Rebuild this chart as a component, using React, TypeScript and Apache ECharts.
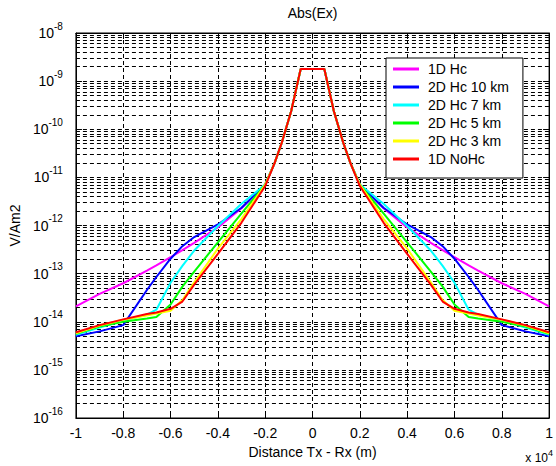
import React, { useEffect, useRef } from "react";
import * as echarts from "echarts";

// Distance Tx - Rx in metres (axis is shown in units of 10^4 m)
const DIST = [-10000, -9000, -8000, -7000, -6600, -6000, -5500, -5000, -4000, -3000, -2000, -1600, -1300, -900, -500, 0, 500, 900, 1300, 1600, 2000, 3000, 4000, 5000, 5500, 6000, 6600, 7000, 8000, 9000, 10000];

const SERIES_NAMES = ["1D Hc", "2D Hc 10 km", "2D Hc 7 km", "2D Hc 5 km", "2D Hc 3 km", "1D NoHc"];
const SERIES_COLORS = ["#ff00ff", "#0000ff", "#00ffff", "#00ff00", "#ffff00", "#ff0000"];

const HC_1D = [2.09e-14, 3.8e-14, 6.31e-14, 1.15e-13, 1.48e-13, 2.19e-13, 3.09e-13, 4.37e-13, 9.12e-13, 2.29e-12, 7.08e-12, 2.0e-11, 5.25e-11, 2.4e-10, 1.78e-9, 1.78e-9, 1.78e-9, 2.4e-10, 5.25e-11, 2.0e-11, 7.08e-12, 2.29e-12, 9.12e-13, 4.37e-13, 3.09e-13, 2.19e-13, 1.48e-13, 1.15e-13, 6.31e-14, 3.8e-14, 2.09e-14];
const HC_2D_10 = [5.01e-15, 6.31e-15, 8.51e-15, 4.57e-14, 8.51e-14, 2.04e-13, 3.72e-13, 5.75e-13, 1.05e-12, 2.34e-12, 7.08e-12, 2.0e-11, 5.25e-11, 2.4e-10, 1.78e-9, 1.78e-9, 1.78e-9, 2.4e-10, 5.25e-11, 2.0e-11, 7.08e-12, 2.34e-12, 1.05e-12, 5.75e-13, 3.72e-13, 2.04e-13, 8.51e-14, 4.57e-14, 8.51e-15, 6.31e-15, 5.01e-15];
const HC_2D_7 = [5.37e-15, 7.59e-15, 1.05e-14, 1.41e-14, 1.78e-14, 6.46e-14, 1.45e-13, 3.02e-13, 9.77e-13, 2.82e-12, 7.08e-12, 2.0e-11, 5.25e-11, 2.4e-10, 1.78e-9, 1.78e-9, 1.78e-9, 2.4e-10, 5.25e-11, 2.0e-11, 7.08e-12, 2.82e-12, 9.77e-13, 3.02e-13, 1.45e-13, 6.46e-14, 1.78e-14, 1.41e-14, 1.05e-14, 7.59e-15, 5.37e-15];
const HC_2D_5 = [5.62e-15, 7.94e-15, 1.0e-14, 1.17e-14, 1.26e-14, 2.29e-14, 5.37e-14, 1.1e-13, 4.47e-13, 1.78e-12, 7.08e-12, 2.0e-11, 5.25e-11, 2.4e-10, 1.78e-9, 1.78e-9, 1.78e-9, 2.4e-10, 5.25e-11, 2.0e-11, 7.08e-12, 1.78e-12, 4.47e-13, 1.1e-13, 5.37e-14, 2.29e-14, 1.26e-14, 1.17e-14, 1.0e-14, 7.94e-15, 5.62e-15];
const HC_2D_3 = [5.75e-15, 8.32e-15, 1.1e-14, 1.35e-14, 1.48e-14, 1.7e-14, 2.82e-14, 6.61e-14, 3.31e-13, 1.38e-12, 7.08e-12, 2.0e-11, 5.25e-11, 2.4e-10, 1.78e-9, 1.78e-9, 1.78e-9, 2.4e-10, 5.25e-11, 2.0e-11, 7.08e-12, 1.38e-12, 3.31e-13, 6.61e-14, 2.82e-14, 1.7e-14, 1.48e-14, 1.35e-14, 1.1e-14, 8.32e-15, 5.75e-15];
const NOHC_1D = [6.03e-15, 8.51e-15, 1.12e-14, 1.45e-14, 1.55e-14, 1.86e-14, 2.63e-14, 5.89e-14, 2.57e-13, 1.15e-12, 6.61e-12, 2.0e-11, 5.25e-11, 2.4e-10, 1.78e-9, 1.78e-9, 1.78e-9, 2.4e-10, 5.25e-11, 2.0e-11, 6.61e-12, 1.15e-12, 2.57e-13, 5.89e-14, 2.63e-14, 1.86e-14, 1.55e-14, 1.45e-14, 1.12e-14, 8.51e-15, 6.03e-15];

const SERIES_VALUES = [HC_1D, HC_2D_10, HC_2D_7, HC_2D_5, HC_2D_3, NOHC_1D];

// Y axis range, decades and the log minor grid multipliers
const Y_MIN = 1e-16;
const Y_MAX = 1e-8;
const DECADES = [-16, -15, -14, -13, -12, -11, -10, -9];
const MINOR_MULT = [2, 3, 4, 5, 6, 7, 8, 9];

const FONT = "'Liberation Sans', Arial, sans-serif";
const DASH = [4, 3];

export default function App() {
  const ref = useRef<HTMLDivElement>(null);

  useEffect(() => {
    document.body.style.margin = "0";
    if (!ref.current) return;
    const chart = echarts.init(ref.current, undefined, { renderer: "svg" });

    const minorLines: any[] = [];
    DECADES.forEach((d) => {
      MINOR_MULT.forEach((m) => minorLines.push({ yAxis: m * Math.pow(10, d) }));
    });

    const supRich = {
      base: { fontSize: 14, fontFamily: FONT, color: "#000", lineHeight: 24 },
      sup: { fontSize: 10, fontFamily: FONT, color: "#000", verticalAlign: "top", lineHeight: 11 },
    };

    const axisLine = { show: true, onZero: false, lineStyle: { color: "#000", width: 1 } };
    const axisTick = { show: true, inside: true, length: 6, lineStyle: { color: "#000" } };

    const series: any[] = [
      {
        name: "__grid",
        type: "line",
        // invisible carrier series (no values) for the minor log grid lines
        data: DIST.map((x) => [x, null]),
        showSymbol: false,
        symbol: "none",
        silent: true,
        z: 1,
        markLine: {
          silent: true,
          z: 1,
          precision: 20,
          symbol: ["none", "none"],
          label: { show: false },
          emphasis: { disabled: true },
          lineStyle: { color: "#000", type: DASH, width: 1, opacity: 1 },
          data: minorLines,
        },
      },
    ];
    SERIES_NAMES.forEach((name, i) => {
      series.push({
        name,
        type: "line",
        data: DIST.map((x, j) => [x, SERIES_VALUES[i][j]]),
        showSymbol: false,
        symbol: "none",
        z: 3,
        lineStyle: { width: 2, color: SERIES_COLORS[i] },
        itemStyle: { color: SERIES_COLORS[i] },
        emphasis: { disabled: true },
        clip: true,
      });
    });

    chart.setOption({
      animation: false,
      backgroundColor: "#fff",
      textStyle: { fontFamily: FONT },
      title: {
        text: "x 10{sup|4}",
        right: 3,
        top: 448,
        padding: 0,
        textStyle: {
          rich: { sup: { fontSize: 9, fontFamily: FONT, color: "#000", verticalAlign: "top", lineHeight: 9 } },
          fontSize: 12,
          fontWeight: "normal",
          color: "#000",
          lineHeight: 20,
          fontFamily: FONT,
        },
      },
      grid: {
        left: 67,
        top: 33,
        right: 1,
        bottom: 48,
        show: true,
        borderColor: "#000",
        borderWidth: 1,
        backgroundColor: "#fff",
      },
      legend: {
        data: SERIES_NAMES,
        orient: "vertical",
        left: 386,
        top: 58,
        backgroundColor: "#fff",
        borderColor: "#000",
        borderWidth: 1,
        padding: [2, 14, 10, 7],
        itemGap: 0,
        itemWidth: 26,
        itemHeight: 3,
        icon: "rect",
        selectedMode: false,
        textStyle: { fontSize: 14, lineHeight: 18, color: "#000", fontFamily: FONT, padding: [0, 0, 0, 4] },
      },
      xAxis: [
        {
          type: "value",
          min: -10000,
          max: 10000,
          interval: 2000,
          position: "bottom",
          name: "Distance Tx - Rx (m)",
          nameLocation: "middle",
          nameGap: 24,
          nameTextStyle: { fontSize: 14, color: "#000", fontFamily: FONT },
          axisLine,
          axisTick,
          axisLabel: {
            fontSize: 14,
            color: "#000",
            fontFamily: FONT,
            margin: 8,
            formatter: (v: number) => String(Math.round(v / 1000) / 10),
          },
          splitLine: { show: true, lineStyle: { color: "#000", type: DASH, width: 1 } },
        },
        {
          type: "value",
          min: -10000,
          max: 10000,
          interval: 2000,
          position: "top",
          name: "Abs(Ex)",
          nameLocation: "middle",
          nameGap: 13,
          nameTextStyle: { fontSize: 14, color: "#000", fontFamily: FONT },
          axisLine,
          axisTick,
          axisLabel: { show: false },
          splitLine: { show: false },
        },
      ],
      yAxis: [
        {
          type: "log",
          logBase: 10,
          min: Y_MIN,
          max: Y_MAX,
          interval: 1,
          position: "left",
          name: "V/Am2",
          nameLocation: "middle",
          nameGap: 44,
          nameRotate: 90,
          nameTextStyle: { fontSize: 14, color: "#000", fontFamily: FONT },
          axisLine,
          axisTick,
          axisLabel: {
            margin: 13,
            formatter: (v: number) => `{base|10}{sup|${Math.round(Math.log10(v))}}`,
            rich: supRich,
          },
          splitLine: { show: true, lineStyle: { color: "#000", type: DASH, width: 1 } },
        },
        {
          type: "log",
          logBase: 10,
          min: Y_MIN,
          max: Y_MAX,
          interval: 1,
          position: "right",
          axisLine,
          axisTick,
          axisLabel: { show: false },
          splitLine: { show: false },
        },
      ],
      series,
    });

    return () => chart.dispose();
  }, []);

  return <div ref={ref} style={{ position: "absolute", left: 0, top: 0, width: 556, height: 466 }} />;
}
